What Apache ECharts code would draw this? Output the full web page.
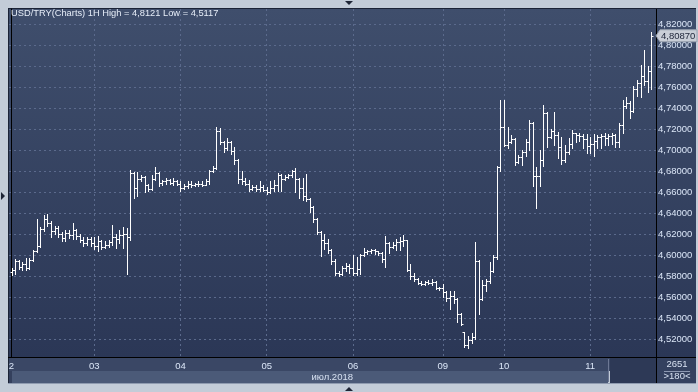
<!DOCTYPE html>
<html><head><meta charset="utf-8">
<script src="https://cdn.jsdelivr.net/npm/echarts@6/dist/echarts.min.js"></script>
<style>html,body{margin:0;padding:0;background:#c3ccd8;}#c{width:698px;height:392px;}</style>
</head><body><div id="c"></div>
<script>
const titleText = 'USD/TRY(Charts) 1H High = 4,8121 Low = 4,5117';
const dayLabels = ['2','03','04','05','06','09','10','11'];
const dayIndex = [0,23,47,71,95,120,137,161];
const gridDays = [23,47,71,95,120,137,161];
const monthLabel = 'июл.2018';
const barCountLabel = '2651';
const rangeLabel = '>180<';
const yTicks = [4.52,4.54,4.56,4.58,4.60,4.62,4.64,4.66,4.68,4.70,4.72,4.74,4.76,4.78,4.80,4.82];

const openVals = [
4.584,4.586,4.594,4.589,4.591,4.588,4.595,4.604,4.609,4.625,
4.634,4.630,4.623,4.626,4.620,4.616,4.621,4.619,4.624,4.618,
4.614,4.611,4.615,4.611,4.609,4.613,4.608,4.610,4.612,4.617,
4.615,4.619,4.620,4.617,4.678,4.664,4.672,4.674,4.667,4.663,
4.672,4.678,4.669,4.670,4.671,4.669,4.670,4.668,4.664,4.666,
4.668,4.667,4.668,4.668,4.667,4.670,4.680,4.683,4.718,4.708,
4.702,4.708,4.699,4.690,4.672,4.670,4.668,4.663,4.665,4.663,
4.665,4.662,4.660,4.664,4.667,4.676,4.672,4.674,4.676,4.680,
4.672,4.664,4.656,4.653,4.646,4.634,4.622,4.614,4.611,4.605,
4.594,4.583,4.582,4.588,4.590,4.588,4.583,4.587,4.600,4.603,
4.604,4.605,4.604,4.602,4.596,4.611,4.608,4.610,4.612,4.613,
4.614,4.586,4.580,4.577,4.573,4.572,4.574,4.573,4.574,4.569,
4.569,4.565,4.559,4.561,4.558,4.544,4.527,4.514,4.519,4.522,
4.594,4.558,4.571,4.575,4.585,4.598,4.684,4.722,4.705,4.708,
4.710,4.689,4.693,4.698,4.708,4.726,4.675,4.675,4.690,4.735,
4.712,4.718,4.714,4.703,4.690,4.698,4.706,4.716,4.714,4.713,
4.710,4.704,4.706,4.709,4.712,4.713,4.711,4.713,4.714,4.708,
4.724,4.742,4.745,4.737,4.758,4.764,4.770,4.766,4.775];

const closeVals = [
4.586,4.594,4.589,4.591,4.588,4.595,4.604,4.609,4.625,4.634,
4.630,4.623,4.626,4.620,4.616,4.621,4.619,4.624,4.618,4.614,
4.611,4.615,4.611,4.609,4.613,4.608,4.610,4.612,4.617,4.615,
4.619,4.620,4.617,4.678,4.664,4.672,4.674,4.667,4.663,4.672,
4.678,4.669,4.670,4.671,4.669,4.670,4.668,4.664,4.666,4.668,
4.667,4.668,4.668,4.667,4.670,4.680,4.683,4.718,4.708,4.702,
4.708,4.699,4.690,4.672,4.670,4.668,4.663,4.665,4.663,4.665,
4.662,4.660,4.664,4.667,4.676,4.672,4.674,4.676,4.680,4.672,
4.664,4.656,4.653,4.646,4.634,4.622,4.614,4.611,4.605,4.594,
4.583,4.582,4.588,4.590,4.588,4.583,4.587,4.600,4.603,4.604,
4.605,4.604,4.602,4.596,4.611,4.608,4.610,4.612,4.613,4.614,
4.586,4.580,4.577,4.573,4.572,4.574,4.573,4.574,4.569,4.569,
4.565,4.559,4.561,4.558,4.544,4.534,4.514,4.519,4.522,4.594,
4.558,4.571,4.575,4.585,4.598,4.684,4.722,4.705,4.708,4.710,
4.689,4.693,4.698,4.708,4.726,4.675,4.675,4.690,4.735,4.712,
4.718,4.714,4.703,4.690,4.698,4.706,4.716,4.714,4.713,4.710,
4.704,4.706,4.709,4.712,4.713,4.711,4.713,4.714,4.708,4.724,
4.742,4.745,4.737,4.758,4.764,4.770,4.766,4.775,4.8087];

const highVals = [
4.588,4.596,4.595,4.593,4.597,4.597,4.605,4.634,4.627,4.638,
4.639,4.632,4.628,4.628,4.622,4.624,4.624,4.630,4.625,4.620,
4.617,4.617,4.617,4.617,4.618,4.614,4.613,4.614,4.629,4.620,
4.624,4.627,4.626,4.681,4.679,4.679,4.676,4.675,4.668,4.676,
4.684,4.679,4.671,4.673,4.672,4.673,4.671,4.670,4.668,4.670,
4.670,4.669,4.670,4.670,4.672,4.681,4.685,4.722,4.721,4.709,
4.711,4.709,4.703,4.691,4.680,4.673,4.671,4.667,4.667,4.670,
4.667,4.665,4.670,4.671,4.678,4.677,4.676,4.677,4.681,4.683,
4.673,4.673,4.677,4.654,4.647,4.635,4.623,4.620,4.615,4.606,
4.596,4.585,4.590,4.592,4.591,4.600,4.598,4.601,4.607,4.605,
4.606,4.606,4.604,4.603,4.618,4.612,4.612,4.615,4.617,4.619,
4.614,4.591,4.583,4.578,4.575,4.575,4.576,4.577,4.575,4.570,
4.572,4.566,4.566,4.566,4.559,4.545,4.527,4.523,4.526,4.612,
4.595,4.576,4.577,4.593,4.600,4.685,4.748,4.748,4.722,4.714,
4.711,4.695,4.700,4.710,4.729,4.727,4.684,4.700,4.743,4.736,
4.720,4.736,4.717,4.712,4.705,4.711,4.719,4.716,4.716,4.715,
4.715,4.712,4.715,4.714,4.715,4.716,4.715,4.716,4.715,4.726,
4.748,4.750,4.747,4.761,4.767,4.781,4.795,4.780,4.8121];

const lowVals = [
4.581,4.582,4.587,4.586,4.586,4.587,4.594,4.603,4.608,4.623,
4.628,4.617,4.620,4.617,4.613,4.613,4.616,4.615,4.615,4.612,
4.609,4.610,4.609,4.606,4.604,4.606,4.607,4.608,4.610,4.607,
4.611,4.607,4.582,4.614,4.654,4.656,4.670,4.660,4.661,4.662,
4.671,4.666,4.667,4.668,4.668,4.667,4.667,4.661,4.663,4.664,
4.665,4.666,4.666,4.666,4.667,4.668,4.679,4.682,4.706,4.698,
4.700,4.696,4.687,4.669,4.668,4.667,4.661,4.662,4.661,4.661,
4.661,4.658,4.659,4.661,4.661,4.661,4.671,4.673,4.674,4.660,
4.654,4.652,4.651,4.641,4.631,4.620,4.599,4.606,4.602,4.591,
4.581,4.580,4.581,4.585,4.583,4.581,4.581,4.582,4.599,4.601,
4.602,4.601,4.600,4.593,4.589,4.602,4.607,4.605,4.605,4.609,
4.585,4.577,4.575,4.572,4.571,4.571,4.572,4.571,4.568,4.567,
4.560,4.556,4.549,4.554,4.536,4.533,4.512,4.5117,4.516,4.520,
4.544,4.557,4.566,4.573,4.584,4.596,4.680,4.704,4.702,4.707,
4.686,4.688,4.686,4.694,4.700,4.666,4.645,4.666,4.685,4.703,
4.711,4.705,4.692,4.687,4.689,4.696,4.702,4.708,4.709,4.702,
4.697,4.697,4.694,4.702,4.702,4.705,4.705,4.706,4.703,4.703,
4.716,4.740,4.730,4.736,4.751,4.750,4.762,4.755,4.758];

const FONT = 'Liberation Sans';
const LABEL = '#dbe6f7';
const rows = openVals.map((o, i) => [i, o, highVals[i], lowVals[i], closeVals[i]]);
const fmt = v => v.toFixed(5).replace('.', ',');

const chart = echarts.init(document.getElementById('c'), null, {renderer: 'canvas'});
chart.setOption({
  animation: false,
  backgroundColor: '#c3ccd8',
  title: {text: titleText, left: 11, top: 9, padding: 0,
    textStyle: {color: '#e6edf8', fontSize: 9.3, fontWeight: 'normal', fontFamily: FONT}},
  grid: {left: 9, top: 9, width: 647, height: 348, show: false},
  xAxis: {
    type: 'value', min: -0.7, max: 179.3,
    axisLine: {show: true, onZero: false, lineStyle: {color: '#000', width: 1}},
    axisTick: {show: false, customValues: gridDays},
    axisLabel: {customValues: dayIndex, formatter: v => dayLabels[dayIndex.indexOf(v)],
      color: LABEL, fontSize: 9.5, fontFamily: FONT, margin: 4},
    splitLine: {show: true, lineStyle: {color: '#5b6a8c', type: [2, 3], width: 1}}
  },
  yAxis: {
    type: 'value', position: 'right', min: 4.5029, max: 4.8342,
    axisLine: {show: true, lineStyle: {color: '#000', width: 1}},
    axisTick: {show: false, customValues: yTicks},
    axisLabel: {customValues: yTicks, formatter: fmt, color: LABEL, fontSize: 9.5, fontFamily: FONT, margin: 2},
    splitLine: {show: true, lineStyle: {color: '#5b6a8c', type: [2, 3], width: 1}}
  },
  dataset: {source: rows},
  series: [{
    type: 'custom',
    encode: {x: 0, y: [1, 2, 3, 4]},
    clip: true,
    renderItem: function (params, api) {
      const i = api.value(0);
      const po = api.coord([i, api.value(1)]);
      const ph = api.coord([i, api.value(2)]);
      const pl = api.coord([i, api.value(3)]);
      const pc = api.coord([i, api.value(4)]);
      const x = Math.round(po[0]) + 0.5;
      const st = {stroke: '#ffffff', lineWidth: 1};
      const yo = Math.round(po[1]) + 0.5, yc = Math.round(pc[1]) + 0.5;
      return {type: 'group', children: [
        {type: 'line', shape: {x1: x, y1: Math.round(ph[1]), x2: x, y2: Math.round(pl[1]) + 1}, style: st},
        {type: 'line', shape: {x1: x - 2, y1: yo, x2: x, y2: yo}, style: st},
        {type: 'line', shape: {x1: x, y1: yc, x2: x + 2, y2: yc}, style: st}
      ]};
    }
  }]
});

const lastY = chart.convertToPixel({yAxisIndex: 0}, closeVals[closeVals.length - 1]);
const monthX = chart.convertToPixel({xAxisIndex: 0}, 89);
chart.setOption({
  graphic: [
    {type: 'rect', z: -10, silent: true, shape: {x: 8, y: 8, width: 688, height: 349},
      style: {fill: new echarts.graphic.LinearGradient(0, 0, 0, 1, [
        {offset: 0, color: '#3f4e6c'}, {offset: 1, color: '#2b3756'}])}},
    {type: 'line', z: -9, shape: {x1: 8, y1: 8.5, x2: 696, y2: 8.5}, style: {stroke: '#1b2336', lineWidth: 1}},
    {type: 'line', z: -9, shape: {x1: 8.5, y1: 8, x2: 8.5, y2: 383}, style: {stroke: '#1b2336', lineWidth: 1}},
    {type: 'rect', z: -10, shape: {x: 9, y: 357, width: 647, height: 14}, style: {fill: '#3a4765'}},
    {type: 'rect', z: -10, shape: {x: 9, y: 371, width: 3, height: 12}, style: {fill: '#34405d'}},
    {type: 'rect', z: -10, shape: {x: 12, y: 371, width: 596, height: 12}, style: {fill: '#4b5a78'}},
    {type: 'rect', z: -9, shape: {x: 610, y: 358, width: 46, height: 25}, style: {fill: '#2d3956'}},
    {type: 'line', z: -9, shape: {x1: 608.5, y1: 359, x2: 608.5, y2: 382}, style: {stroke: '#6d7894', lineWidth: 1}},
    {type: 'rect', z: -10, shape: {x: 656, y: 357, width: 40, height: 26}, style: {fill: '#34415f'}},
    {type: 'line', z: 5, shape: {x1: 8, y1: 357.5, x2: 696, y2: 357.5}, style: {stroke: '#000', lineWidth: 1}},
    {type: 'line', z: 5, shape: {x1: 656.5, y1: 9, x2: 656.5, y2: 383}, style: {stroke: '#000', lineWidth: 1}},
    {type: 'line', z: 5, shape: {x1: 8, y1: 383.5, x2: 696, y2: 383.5}, style: {stroke: '#8f9bb0', lineWidth: 1}},
    {type: 'text', z: 5, style: {text: monthLabel, x: 353, y: 377, align: 'right', verticalAlign: 'middle',
      fill: '#d6e0f0', font: '9.5px "Liberation Sans"'}},
    {type: 'text', z: 5, style: {text: barCountLabel, x: 677, y: 364.5, align: 'center', verticalAlign: 'middle',
      fill: '#d6e0f0', font: '9.5px "Liberation Sans"'}},
    {type: 'line', z: 5, shape: {x1: 664, y1: 371.5, x2: 690, y2: 371.5}, style: {stroke: '#8d99b2', lineWidth: 1}},
    {type: 'text', z: 5, style: {text: rangeLabel, x: 677, y: 376.5, align: 'center', verticalAlign: 'middle',
      fill: '#d6e0f0', font: '9.5px "Liberation Sans"'}},
    {type: 'polygon', z: 6, shape: {points: [[656, lastY], [660, lastY - 6], [697, lastY - 6], [697, lastY + 6], [660, lastY + 6]]},
      style: {fill: '#c9ced7', stroke: '#9aa2b0', lineWidth: 1}},
    {type: 'text', z: 7, style: {text: fmt(closeVals[closeVals.length - 1]), x: 661, y: lastY + 0.5, verticalAlign: 'middle',
      fill: '#1d2438', font: '9.5px "Liberation Sans"'}},
    {type: 'polygon', z: 6, shape: {points: [[345, 1], [353, 1], [349, 5]]}, style: {fill: '#1e2536'}},
    {type: 'polygon', z: 6, shape: {points: [[345, 391], [353, 391], [349, 387]]}, style: {fill: '#1e2536'}},
    {type: 'polygon', z: 6, shape: {points: [[1, 192], [1, 200], [5, 196]]}, style: {fill: '#1e2536'}}
  ]
});
</script></body></html>
